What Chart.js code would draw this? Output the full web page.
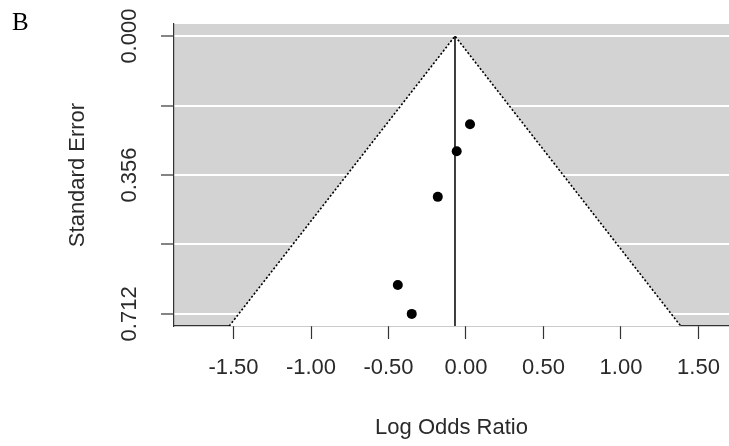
<!DOCTYPE html>
<html>
<head>
<meta charset="utf-8">
<script src="https://cdn.jsdelivr.net/npm/chart.js@4.4.1/dist/chart.umd.min.js"></script>
<style>
  html, body { margin: 0; padding: 0; background: #fff; overflow: hidden; }
  /* plot runs off the right edge of the window, like the reference */
  #wrap { width: 734px; height: 446px; position: relative; }
</style>
</head>
<body>
<div id="wrap"><canvas id="funnel"></canvas></div>
<script>
// study data (log odds ratio, standard error)
const logOR = [0.026, -0.060, -0.182, -0.440, -0.350];
const stdErr = [0.226, 0.295, 0.412, 0.638, 0.712];

// pooled estimate (apex of the funnel)
const estimate = -0.071;

// axis ticks
const xTicks = [-1.5, -1.0, -0.5, 0.0, 0.5, 1.0, 1.5];
const yTicks = [0, 0.178, 0.356, 0.534, 0.712];
const yLabels = ['0.000', '', '0.356', '', '0.712'];

const xMin = -1.884, xMax = 1.697;
const yMin = -0.031, yMax = 0.743;

const FONT = 'Liberation Sans, Arial, sans-serif';

document.addEventListener('DOMContentLoaded', function() {
    const points = logOR.map((x, i) => ({ x: x, y: stdErr[i] }));

    // funnel edges run from the apex down to the bottom of the plot
    const halfWidth = 1.96 * yMax;
    const funnel = [
        { x: estimate - halfWidth, y: yMax },
        { x: estimate, y: 0 },
        { x: estimate + halfWidth, y: yMax }
    ];
    const centreLine = [{ x: estimate, y: 0 }, { x: estimate, y: yMax }];

    // grey plot background + panel letter
    const background = {
        id: 'background',
        beforeDraw(chart) {
            const { ctx, chartArea: a } = chart;
            ctx.save();
            ctx.fillStyle = '#d3d3d3';
            ctx.fillRect(a.left, a.top, chart.width - a.left, a.bottom - a.top);
            ctx.restore();
        },
        afterDraw(chart) {
            const ctx = chart.ctx;
            ctx.save();
            ctx.fillStyle = '#000';
            ctx.font = '25px "Liberation Serif", "Times New Roman", serif';
            ctx.textBaseline = 'alphabetic';
            ctx.fillText('B', 12, 30);
            ctx.restore();
        }
    };

    const ctx = document.getElementById('funnel').getContext('2d');
    new Chart(ctx, {
        data: {
            datasets: [{
                type: 'scatter',
                data: points,
                pointRadius: 5,
                pointBackgroundColor: '#000',
                pointBorderWidth: 0,
                order: 0
            }, {
                type: 'line',
                data: centreLine,
                borderColor: '#000',
                borderWidth: 1.5,
                pointRadius: 0,
                fill: false,
                order: 1
            }, {
                type: 'line',
                data: funnel,
                borderColor: '#000',
                borderWidth: 1.6,
                borderDash: [2, 2],
                pointRadius: 0,
                tension: 0,
                fill: { value: yMax },
                backgroundColor: '#ffffff',
                order: 2
            }]
        },
        options: {
            responsive: true,
            maintainAspectRatio: false,
            animation: false,
            layout: { padding: { top: 24, right: 0, left: 0, bottom: 0 } },
            plugins: {
                legend: { display: false },
                tooltip: { enabled: false }
            },
            scales: {
                x: {
                    type: 'linear',
                    min: xMin,
                    max: xMax,
                    afterBuildTicks: s => { s.ticks = xTicks.map(v => ({ value: v })); },
                    afterFit: s => { s.height = 120; s.paddingRight = 0; s.paddingLeft = 0; },
                    ticks: {
                        callback: v => v.toFixed(2),
                        font: { family: FONT, size: 22 },
                        color: '#2a2a2a',
                        padding: 16,
                        maxRotation: 0
                    },
                    grid: {
                        drawOnChartArea: false,
                        tickLength: 13,
                        tickColor: '#333',
                        tickWidth: 1.2
                    },
                    border: { display: true, color: '#333', width: 1.2 },
                    title: {
                        display: true,
                        text: 'Log Odds Ratio',
                        font: { family: FONT, size: 22 },
                        color: '#2a2a2a',
                        padding: { top: 0, bottom: 5 }
                    }
                },
                y: {
                    type: 'linear',
                    reverse: true,
                    min: yMin,
                    max: yMax,
                    afterBuildTicks: s => { s.ticks = yTicks.map(v => ({ value: v })); },
                    afterFit: s => { s.width = 174; s.paddingTop = 0; s.paddingBottom = 0; },
                    ticks: {
                        callback: (v, i) => yLabels[i],
                        font: { family: FONT, size: 22 },
                        color: '#2a2a2a',
                        minRotation: 90,
                        maxRotation: 90,
                        crossAlign: 'center',
                        padding: 4
                    },
                    grid: {
                        color: '#ffffff',
                        lineWidth: 2,
                        tickLength: 13,
                        tickColor: '#333',
                        tickWidth: 1.2
                    },
                    border: { display: true, color: '#333', width: 1.2 },
                    title: {
                        display: true,
                        text: 'Standard Error',
                        font: { family: FONT, size: 22 },
                        color: '#2a2a2a',
                        padding: { top: 65, bottom: 0 }
                    }
                }
            }
        },
        plugins: [background]
    });
});
</script>
</body>
</html>
